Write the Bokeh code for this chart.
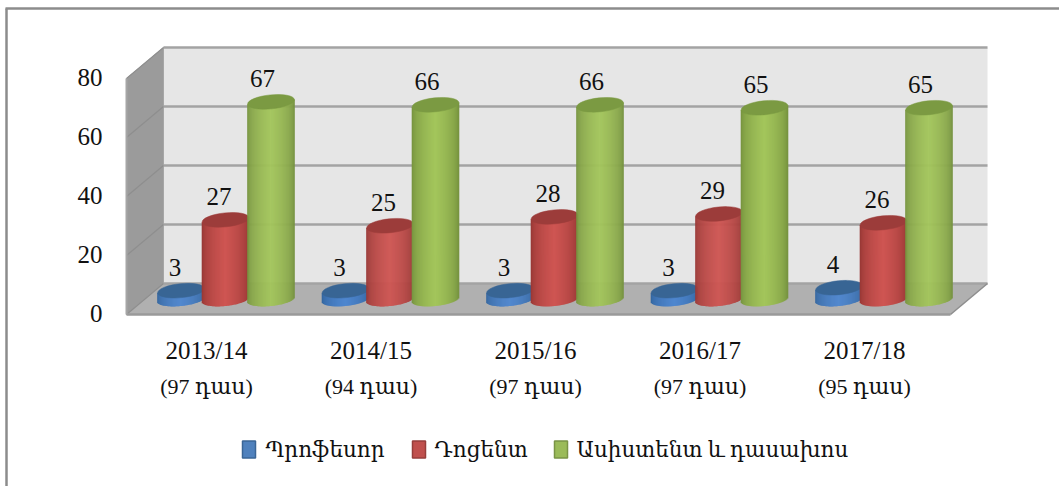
import numpy as np
from bokeh.plotting import figure
from bokeh.models import Range1d
from bokeh.core.properties import value
from bokeh.embed import file_html
from bokeh.resources import INLINE

years = ["2013/14", "2014/15", "2015/16", "2016/17", "2017/18"]
groups = ["97 դաս", "94 դաս", "97 դաս", "97 դաս", "95 դաս"]
professor = [3, 3, 3, 3, 4]
docent = [27, 25, 28, 29, 26]
assistant = [67, 66, 66, 65, 65]
series_names = ["Պրոֆեսոր", "Դոցենտ", "Ասիստենտ և դասախոս"]
y_ticks = [0, 20, 40, 60, 80]

W, H = 1059, 486
GROUP_PX = 164.5      # pixels per category
Y_PX = 2.95           # pixels per value unit
X0_PX = 225.0         # pixel of first category centre
Y0_PX = 299.0         # pixel of value 0 at the bars' depth
FONT = "Liberation Serif, DejaVu Serif, serif"

x_range = Range1d(-X0_PX / GROUP_PX, (W - X0_PX) / GROUP_PX)
y_range = Range1d((Y0_PX - H) / Y_PX, Y0_PX / Y_PX)
p = figure(width=W, height=H, x_range=x_range, y_range=y_range,
           output_backend="svg", toolbar_location=None, min_border=0)
p.axis.visible = False
p.grid.visible = False
p.outline_line_color = None
p.background_fill_color = "white"
p.border_fill_color = "white"
p.styles = {"position": "absolute", "left": "0", "top": "0"}


def X(px):
    return (np.asarray(px, dtype=float) - X0_PX) / GROUP_PX


def Y(py):
    return (Y0_PX - np.asarray(py, dtype=float)) / Y_PX


# outer frame
p.line(X([6, 6]), Y([486, 8]), line_color="#8c8c8c", line_width=2.5)
p.line(X([5, 1059]), Y([8, 8]), line_color="#8c8c8c", line_width=2.5)

# 3-D box
BACK_L, BACK_R, FRONT_L, FRONT_R = 163, 987, 126, 950
BACK_0, FRONT_0 = 283, 314
TOP = max(y_ticks)


def back_y(v):
    return BACK_0 - v * Y_PX


def front_y(v):
    return FRONT_0 - v * Y_PX


p.patch(X([BACK_L, BACK_R, BACK_R, BACK_L]), Y([back_y(0), back_y(0), back_y(TOP), back_y(TOP)]),
        fill_color="#e6e6e6", line_color=None)
p.patch(X([FRONT_L, BACK_L, BACK_L, FRONT_L]), Y([front_y(0), back_y(0), back_y(TOP), front_y(TOP)]),
        fill_color="#9b9b9b", line_color="#a6a6a6", line_width=1)
p.patch(X([FRONT_L, BACK_L, BACK_R, FRONT_R]), Y([front_y(0), back_y(0), back_y(0), front_y(0)]),
        fill_color="#b0b0b0", line_color=None)
for v in y_ticks:
    p.line(X([BACK_L, BACK_R]), Y([back_y(v), back_y(v)]), line_color="#a3a3a3", line_width=2.5)
    p.line(X([FRONT_L, BACK_L]), Y([front_y(v), back_y(v)]), line_color="#8e8e8e", line_width=1.2)
p.line(X([FRONT_L, FRONT_R]), Y([front_y(0), front_y(0)]), line_color="#9a9a9a", line_width=2.5)
p.line(X([FRONT_L, FRONT_L]), Y([front_y(0), front_y(TOP)]), line_color="#a6a6a6", line_width=2)
p.line(X([FRONT_R, BACK_R]), Y([front_y(0), back_y(0)]), line_color="#8e8e8e", line_width=1.5)

# cylinders
BAR_W = 47
RY = 6.5
TILT = 0.1
OFFSETS = [-44.5, 0.0, 45.5]
LABEL_OFFSETS = [-50.5, -6.5, 37.0]
STYLES = [
    dict(edge=(47, 96, 150), mid=(79, 135, 208), top="#386594"),
    dict(edge=(142, 50, 48), mid=(207, 86, 83), top="#9c3c3a"),
    dict(edge=(110, 138, 58), mid=(164, 198, 92), top="#7b9a42"),
]


def shade(edge, mid, t):
    k = (1 - abs(t)) ** 0.45
    return "#%02x%02x%02x" % tuple(int(e + (m - e) * k) for e, m in zip(edge, mid))


for vals, off, st in zip([professor, docent, assistant], OFFSETS, STYLES):
    x0s, x1s, y0s, y1s, cols = [], [], [], [], []
    cxs, cys = [], []
    for i, v in enumerate(vals):
        cx = i + off / GROUP_PX
        for dx in np.arange(-BAR_W / 2 + 0.5, BAR_W / 2, 1.0):
            t = dx / (BAR_W / 2)
            low = RY * np.sqrt(max(0.0, 1 - t * t)) - TILT * dx
            x0s.append(cx + dx / GROUP_PX)
            x1s.append(cx + dx / GROUP_PX)
            y0s.append(-low / Y_PX)
            y1s.append(v + TILT * dx / Y_PX)
            cols.append(shade(st["edge"], st["mid"], t))
        cxs.append(cx)
        cys.append(v)
    p.segment(x0=x0s, y0=y0s, x1=x1s, y1=y1s, line_color=cols, line_width=1.6)
    p.ellipse(x=cxs, y=cys, width=BAR_W, height=2 * RY + 1, angle=TILT,
              width_units="screen", height_units="screen",
              fill_color=st["top"], line_color=st["top"], line_width=0.5)

# data labels
for vals, off in zip([professor, docent, assistant], LABEL_OFFSETS):
    lx = [i + off / GROUP_PX for i in range(len(vals))]
    ly = [v + 23.5 / Y_PX for v in vals]
    p.text(x=lx, y=ly, text=[str(v) for v in vals], text_font=value(FONT),
           text_font_size="25px", text_align="center", text_baseline="middle", text_color="#111111")

# value tick labels
p.text(x=X([102] * len(y_ticks)), y=[Y(front_y(v) - 1) for v in y_ticks], text=[str(v) for v in y_ticks],
       text_font=value(FONT), text_font_size="25px", text_align="right", text_baseline="middle",
       text_color="#111111")

# category labels
cat_x = [i - 19 / GROUP_PX for i in range(len(years))]
p.text(x=cat_x, y=[Y(350)] * len(years), text=years, text_font=value(FONT), text_font_size="25px",
       text_align="center", text_baseline="middle", text_color="#111111")
p.text(x=cat_x, y=[Y(386)] * len(years), text=["(%s)" % g for g in groups], text_font=value(FONT),
       text_font_size="22px", text_align="center", text_baseline="middle", text_color="#111111")

# legend
LEG_X = [242, 412, 554]
LEG_TX = [265, 434, 576]
LEG_COL = ["#4f81bd", "#c0504d", "#9bbb59"]
LEG_EDGE = ["#3a6596", "#963e3b", "#7a9446"]
p.rect(x=X(LEG_X) + 6.5 / GROUP_PX, y=[Y(449)] * 3, width=13, height=17, width_units="screen",
       height_units="screen", fill_color=LEG_COL, line_color=LEG_EDGE, line_width=1.5)
p.text(x=X(LEG_TX), y=[Y(449)] * 3, text=series_names, text_font=value(FONT), text_font_size="21.5px",
       text_align="left", text_baseline="middle", text_color="#111111")

open("out.html", "w").write(file_html(p, INLINE))
